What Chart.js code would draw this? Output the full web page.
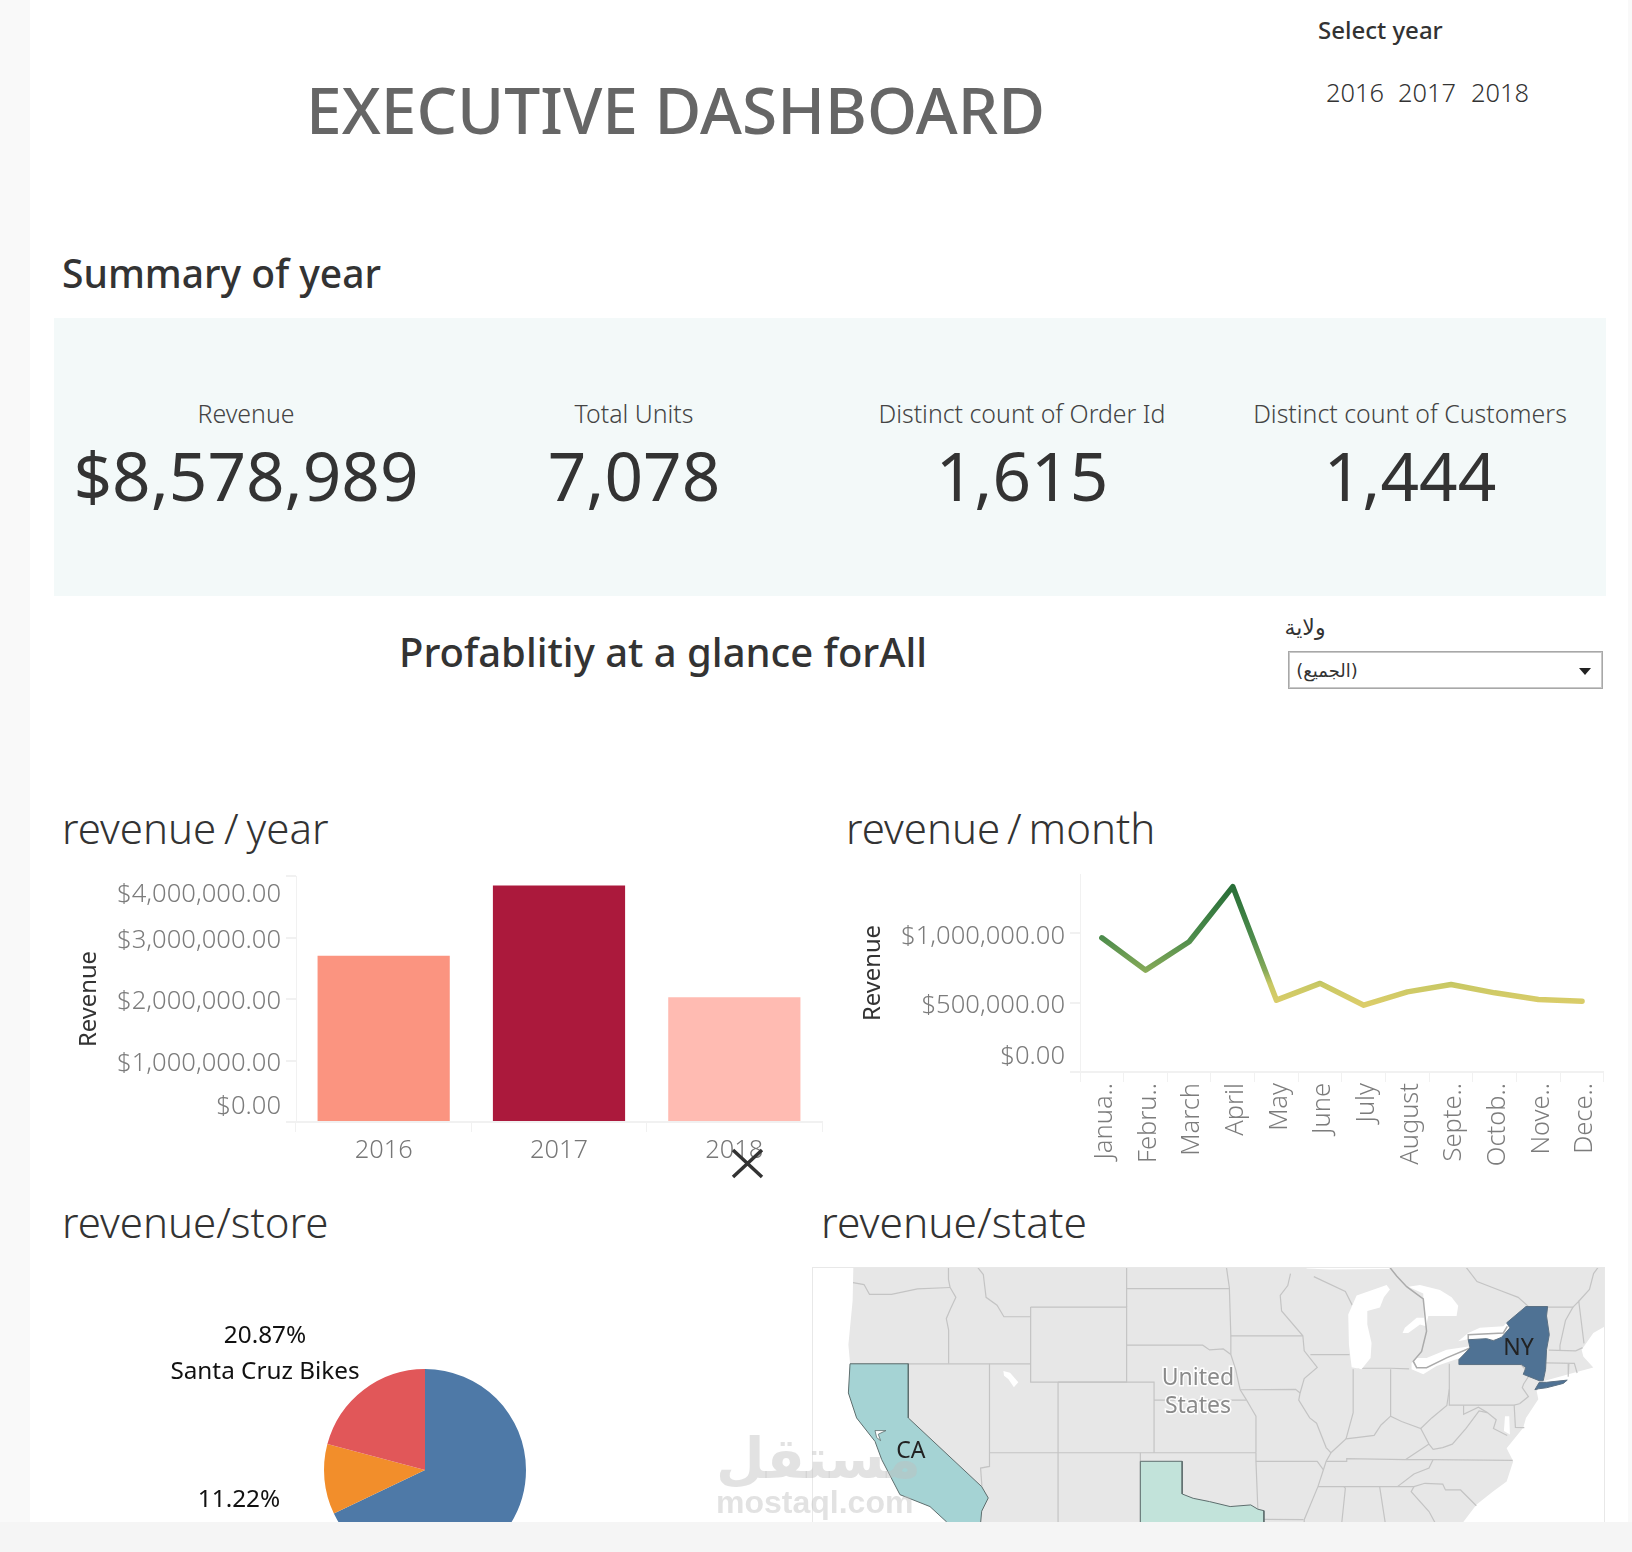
<!DOCTYPE html>
<html>
<head>
<meta charset="utf-8">
<title>Executive Dashboard</title>
<script src="https://cdn.jsdelivr.net/npm/chart.js@4/dist/chart.umd.js"></script>
<style>
  html, body { margin: 0; padding: 0; background: #fff; }
  #page { position: relative; width: 1632px; height: 1552px; overflow: hidden; background: #fff; font-family: "Noto Sans", sans-serif; color: #333; }
  .t { position: absolute; white-space: nowrap; line-height: 1; }
  .c { transform: translate(-50%, -50%); }
  .l { transform: translateY(-50%); }
  .head { font-weight: 300; font-size: 42px; color: #333; }
  .box { position: absolute; overflow: hidden; }
  canvas { display: block; }
  #bandLeft { position: absolute; left: 0; top: 0; width: 30px; height: 1552px; background: #f9f9f9; }
  #bandRight { position: absolute; left: 1628px; top: 0; width: 4px; height: 1552px; background: #f9f9f9; }
  #bandBottom { position: absolute; left: 0; top: 1522px; width: 1632px; height: 30px; background: #f5f5f5; }
  #kpiBand { position: absolute; left: 54px; top: 318px; width: 1552px; height: 278px; background: #f3f9f9; }
  #stateSelect { position: absolute; left: 1288px; top: 651px; width: 313px; height: 36px; border: 1px solid #a8a8a8; box-shadow: inset 0 0 0 1px #c8c8c8; }
  #stateSelect i { position: absolute; left: 290px; top: 16px; width: 0; height: 0; border-left: 6px solid transparent; border-right: 6px solid transparent; border-top: 7px solid #222; }
  #mapPane { outline: 1px solid #e8e8e8; }
  #cursorMark { position: absolute; left: 731px; top: 1148px; }
  .mark { position: absolute; font-family: "DejaVu Sans", sans-serif; font-weight: bold; color: rgba(190, 190, 190, 0.45); white-space: nowrap; line-height: 1; }
</style>
</head>
<body>
<div id="page">
  <div id="bandLeft"></div>
  <div id="bandRight"></div>

  <div class="t l" style="left:306px;top:110px;font-size:64px;font-weight:500;color:#666">EXECUTIVE DASHBOARD</div>
  <div class="t l" style="left:1318px;top:30px;font-size:24px;font-weight:500">Select year</div>
  <div id="yearPicker"></div>

  <div class="t l" style="left:62px;top:272px;font-size:39px;font-weight:500">Summary of year</div>
  <div id="kpiBand"></div>
  <div id="kpis"></div>

  <div class="t l" style="left:399px;top:652px;font-size:40px;font-weight:500">Profablitiy at a glance forAll</div>
  <div class="t c" dir="rtl" style="left:1305px;top:628px;font-size:22px;font-family:'DejaVu Sans'">ولاية</div>
  <div id="stateSelect"><i></i></div>
  <div class="t c" dir="rtl" style="left:1327px;top:671px;font-size:18px;font-family:'DejaVu Sans'">(الجميع)</div>

  <div class="t l head" style="left:62px;top:828px;word-spacing:-3px">revenue / year</div>
  <div class="t l head" style="left:846px;top:828px;word-spacing:-4px">revenue / month</div>
  <div class="t l head" style="left:62px;top:1222px">revenue/store</div>
  <div class="t l head" style="left:821px;top:1222px;font-size:42.5px">revenue/state</div>

  <div class="box" style="left:60px;top:866px;width:770px;height:310px"><canvas id="barChart" width="770" height="310"></canvas></div>
  <div class="box" style="left:846px;top:864px;width:768px;height:316px"><canvas id="lineChart" width="768" height="316"></canvas></div>
  <div class="box" style="left:150px;top:1270px;width:550px;height:252px"><canvas id="pieChart" width="550" height="400"></canvas></div>
  <div class="box" id="mapPane" style="left:813px;top:1268px;width:791px;height:254px"><canvas id="mapChart" width="791" height="254"></canvas></div>

  <svg id="cursorMark" width="33" height="31"><path d="M2 2 L31 29 M31 2 L2 29" stroke="#333" stroke-width="3.5" fill="none"/></svg>

  <div class="mark" dir="rtl" style="left:716px;top:1431px;font-size:56px">مستقل</div>
  <div class="mark" style="left:716px;top:1486px;font-size:32px;font-family:'Liberation Sans'">mostaql.com</div>

  <div id="bandBottom"></div>
</div>

<script>
// Year filter and KPI row
const years = ['2016', '2017', '2018'];
const kpiLabels = ['Revenue', 'Total Units', 'Distinct count of Order Id', 'Distinct count of Customers'];
const kpiValues = ['$8,578,989', '7,078', '1,615', '1,444'];

// Revenue by year
const yearRevenue = [2703989, 3845000, 2030000];
const yearColors = ['#fb9480', '#ab193c', '#ffbbb2'];
const yearTicks = [0, 1000000, 2000000, 3000000, 4000000];

// Revenue by month
const monthLabels = ['Janua..', 'Febru..', 'March', 'April', 'May', 'June', 'July', 'August', 'Septe..', 'Octob..', 'Nove..', 'Dece..'];
const monthRevenue = [968000, 735000, 939000, 1337000, 518000, 639000, 482000, 578000, 631000, 571000, 523000, 511000];
const monthTicks = [0, 500000, 1000000];

// Revenue share by store, percent
const storeNames = ['Baldwin Bikes', 'Rowlett Bikes', 'Santa Cruz Bikes'];
const storeShare = [67.91, 11.22, 20.87];
const storeColors = ['#4e79a7', '#f28e2b', '#e15759'];

// Map outlines as [lon, lat]
const landOutline = [[-124,49.5],[-123.98,46.98],[-124.03,45.33],[-124.34,43.03],[-124.22,42.05],[-124.34,40.4],[-123.74,39],[-122.4,37.66],[-121.91,36.6],[-120.58,34.52],[-118.39,33.8],[-117.17,32.86],[-117.17,31],[-85,30],[-80,32],[-79.5,32.86],[-78.53,33.92],[-77.31,34.72],[-76.34,35.3],[-75.86,36.5],[-76.34,37.26],[-75.13,38.44],[-74.93,39],[-74.03,40.05],[-74.15,40.5],[-73.67,41.05],[-71.97,41.4],[-70.02,41.8],[-70.75,42.4],[-70.87,42.76],[-70.02,43.65],[-69.29,43.95],[-66,45],[-64,49.5],[-124,49.5]];
const lakeSuperior = [[-90.93,46.95],[-89.2,46.9],[-84.85,46.93],[-84.85,48],[-90.93,48],[-90.93,46.95]];
const lakeMichigan = [[-85.09,46.13],[-87.28,45.6],[-87.89,44.62],[-87.84,43.03],[-87.64,41.82],[-86.92,41.7],[-86.26,42.32],[-86.19,43.12],[-86.5,44.09],[-86.5,44.8],[-85.58,44.98],[-85.29,45.51],[-84.85,45.9],[-85.09,46.13]];
const lakeHuron = [[-83.51,46.04],[-82.42,45.69],[-82.37,44.45],[-82.9,44.45],[-83.76,43.92],[-83.93,43.65],[-83.51,43.65],[-82.66,44.09],[-82.22,44],[-82.05,44.54],[-79.99,44.54],[-79.87,45.07],[-80.35,45.51],[-81.2,45.87],[-82.66,46.13],[-83.51,46.04]];
const lakeErie = [[-83.27,41.7],[-82.42,41.43],[-81.45,41.88],[-79.75,42.32],[-78.53,42.85],[-79.01,42.94],[-80.72,42.76],[-82.18,42.32],[-82.9,42.32],[-83.27,42.05],[-83.27,41.7]];
const lakeOntario = [[-79.87,43.21],[-79.14,43.65],[-78.29,43.92],[-76.58,44],[-76.34,44.18],[-75.98,43.92],[-76.34,43.56],[-76.83,43.35],[-77.8,43.29],[-79.01,43.35],[-79.87,43.21]];
const saltLake = [[-113.04,41.61],[-112.55,41.52],[-111.95,40.99],[-112.27,40.72],[-112.68,41.17],[-112.99,41.35],[-113.04,41.61]];
const chesapeake = [[-76.46,39.1],[-76.15,39.1],[-76.1,38.05],[-76.54,38.25],[-76.46,39.1]];
const sanFranciscoBay = [[-122.4,38.28],[-121.6,38.28],[-122.16,38.07],[-121.99,37.7],[-122.28,37.88],[-122.4,38.28]];
const californiaShape = [[-124.22,42],[-119.97,42],[-119.97,39],[-114.62,35],[-114.14,34.32],[-114.62,33.52],[-114.72,32.6],[-117.17,32.6],[-117.17,32.86],[-118.39,33.8],[-120.58,34.52],[-121.91,36.6],[-122.4,37.66],[-123.74,39],[-124.34,40.4],[-124.22,42]];
const texasShape = [[-103.05,36.5],[-100,36.5],[-100,34.56],[-99.2,34.3],[-98,34.1],[-96.5,33.8],[-95,33.9],[-94.48,33.64],[-94.04,33.55],[-94.04,31.99],[-94.04,30],[-103.05,30],[-103.05,36.5]];
const newYorkShape = [[-79.82,41.96],[-79.82,42.23],[-79.01,42.85],[-79.14,43.29],[-77.8,43.35],[-77.31,43.24],[-76.71,43.42],[-76.1,43.92],[-76.34,44.18],[-74.93,45.03],[-73.35,45.03],[-73.43,44.54],[-73.23,43.56],[-73.43,42.76],[-73.5,41.7],[-73.67,41.08],[-73.96,41.08],[-75.13,41.43],[-74.93,41.79],[-75.25,41.96],[-79.82,41.96]];
const longIslandShape = [[-74.28,40.58],[-73.96,40.99],[-73.43,40.99],[-71.92,41.11],[-72.21,40.93],[-73.43,40.69],[-74.03,40.63],[-74.28,40.58]];
const canadaLakeLine = [[-84.85,47],[-84.36,46.58],[-83.63,46.04],[-82.42,45.42],[-82.18,43.74],[-82.54,42.67],[-83.15,42.14],[-82.9,41.79],[-82.18,41.79],[-80.72,42.32],[-79.01,42.85]];
const ontarioLakeLine = [[-79.14,43.29],[-79.14,43.56],[-76.58,43.65],[-76.29,44]];
const stateBorders = [
  [[-124,46.25],[-123.2,46.15],[-122.8,45.65],[-121.2,45.65],[-119.3,45.93],[-116.92,46]],
  [[-116.92,46],[-116.5,45.5],[-116.9,44.9],[-117.2,44.4],[-117.03,43.8],[-117.03,42]],
  [[-117.04,49],[-117.04,46.4],[-116.92,46]],
  [[-124.2,42],[-111.05,42]],
  [[-116.05,49],[-116.05,48],[-114.5,46.65],[-114.3,45.5],[-113.5,45.1],[-113,44.5],[-111.05,44.5]],
  [[-111.05,45],[-104.05,45],[-104.05,41],[-111.05,41],[-111.05,45]],
  [[-104.05,49],[-104.05,45]],
  [[-114.05,42],[-114.05,36.2],[-114.7,36.1],[-114.6,35]],
  [[-109.05,41],[-109.05,31.33]],
  [[-114.05,37],[-94.62,37]],
  [[-109.05,41],[-102.05,41],[-102.05,37]],
  [[-104.05,43],[-98.5,43],[-98,42.75],[-97,42.8],[-96.45,42.5]],
  [[-102.05,40],[-95.3,40]],
  [[-104.05,45.94],[-96.56,45.94]],
  [[-94.62,37],[-94.62,39.1],[-95,39.6],[-95.3,40]],
  [[-103.05,37],[-103.05,32]],
  [[-94.62,37],[-94.62,36.5],[-94.48,33.64]],
  [[-94.62,36.5],[-90.15,36.5],[-89.7,36]],
  [[-94.04,33.02],[-91.15,33]],
  [[-95.77,40.58],[-91.73,40.6],[-91.4,40.4]],
  [[-97.2,49],[-96.56,46],[-96.45,43.5],[-91.2,43.5]],
  [[-96.45,43.5],[-96.45,42.5],[-96.1,41.7],[-95.9,41],[-95.77,40.58],[-95.3,40]],
  [[-92.1,46.7],[-92.3,46.1],[-92.85,45.6],[-92.75,44.8],[-91.2,43.5],[-91.1,42.7],[-90.15,41.8],[-91.1,41.2],[-91.4,40.4],[-91.5,40],[-90.7,39],[-90.2,38.7],[-89.5,37.3],[-89.15,37],[-89.5,36.5],[-89.7,36],[-90.1,35],[-91.1,33],[-91.1,32.3]],
  [[-90.65,42.5],[-87.8,42.5]],
  [[-90.4,46.55],[-88.1,45.8],[-87.6,45.1]],
  [[-87.53,41.7],[-87.53,39.3],[-88.05,37.8]],
  [[-84.8,41.7],[-84.8,39.1]],
  [[-87.2,41.76],[-84.8,41.76],[-83.45,41.73]],
  [[-89.15,37],[-88.05,37.8],[-87,37.9],[-86,38],[-85.5,38.6],[-84.8,39.1],[-84,38.8],[-82.6,38.4],[-81.8,39],[-80.7,39.7],[-80.52,40.6]],
  [[-80.52,42],[-80.52,39.72],[-75.8,39.72],[-75.4,39.8]],
  [[-75.4,39.8],[-74.75,40.2],[-75.2,40.7],[-75.1,40.9],[-74.7,41.36],[-75.1,41.8],[-75.35,42]],
  [[-82.6,38.4],[-82,37.5],[-81.7,37.2],[-81,37.3],[-80.3,37.5],[-79.3,38.4],[-78.35,39.4],[-77.75,39.3]],
  [[-79.48,39.72],[-79.48,39.2],[-78.4,39.6],[-77.75,39.3],[-77.1,38.9],[-77.3,38.4],[-76.3,38]],
  [[-75.79,39.72],[-75.7,38.46],[-75.05,38.45]],
  [[-89.5,36.5],[-88,36.5],[-88,36.65],[-83.7,36.6],[-81.7,36.6],[-75.9,36.55]],
  [[-83.7,36.6],[-82,37.5]],
  [[-81.7,36.6],[-82,36.1],[-83.1,35.75],[-84.3,35]],
  [[-90.1,35],[-83.1,35],[-82.3,35.2],[-81,35.15],[-80.8,34.8],[-79.7,34.8],[-78.55,33.85]],
  [[-88.2,35],[-88.1,34.9],[-88.4,32.5],[-88.45,31]],
  [[-85.6,35],[-85.2,32.85],[-85,32]],
  [[-83.1,35],[-83.3,34.7],[-82,33.5],[-81.1,32.1]],
  [[-73.35,45],[-71.5,45],[-72.05,44.3],[-72.45,43],[-72.45,42.73]],
  [[-73.27,42.74],[-71.3,42.7],[-70.8,42.87]],
  [[-73.5,42.05],[-71.4,42.02],[-71.2,41.5]],
  [[-71.8,42.02],[-71.85,41.3]],
  [[-71.5,45],[-71.08,45.3],[-70.7,43.1]],
  [[-71.08,45.3],[-70.3,45.9],[-70,46.7],[-69.2,47.45],[-68.3,47.35],[-67.8,47.07],[-67.8,45.7],[-67,44.9]],
  [[-79.5,47.2],[-78.5,46.3],[-77,45.9],[-75.5,45.5],[-74.7,45]]
];
const mapLabels = [
  { text: 'United', lon: -98.85, lat: 41.22, color: '#8a8a8a' },
  { text: 'States', lon: -98.85, lat: 39.65, color: '#8a8a8a' },
  { text: 'CA', lon: -119.78, lat: 37.1, color: '#222' },
  { text: 'NY', lon: -75.47, lat: 42.85, color: '#222' }
];

// Mercator ordinate in degrees, so the map sits on plain linear scales
function merc(lat) {
  return Math.log(Math.tan(Math.PI / 4 + lat * Math.PI / 360)) * 180 / Math.PI;
}

function money(v) {
  return '$' + v.toLocaleString('en-US', { minimumFractionDigits: 2, maximumFractionDigits: 2 });
}

// small DOM bits
const page = document.getElementById('page');
function addText(text, left, top, style) {
  const el = document.createElement('div');
  el.className = 't c';
  el.textContent = text;
  el.style.cssText = `left:${left}px;top:${top}px;${style}`;
  page.insertBefore(el, document.getElementById('bandBottom'));
}
[1355, 1427, 1500].forEach((x, i) => addText(years[i], x, 93, 'font-size:25.4px;font-weight:300;color:#333'));
[246, 634, 1022, 1410].forEach((x, i) => {
  addText(kpiLabels[i], x, 413, 'font-size:24.9px;font-weight:300;color:#444');
  addText(kpiValues[i], x, 476, 'font-size:67.5px;font-weight:400;color:#333');
});

Chart.defaults.animation = false;
Chart.defaults.responsive = false;
Chart.defaults.font.family = '"Noto Sans", sans-serif';
Chart.defaults.plugins.legend.display = false;
Chart.defaults.plugins.tooltip.enabled = false;

const axisColor = '#f1f1f1';
const tickGrey = '#7c7c7c';

// Value labels stay inside the axis: the end ones get pushed inward
const yTickLabels = {
  id: 'yTickLabels',
  afterDraw(chart) {
    const s = chart.scales.y;
    const ctx = chart.ctx;
    ctx.save();
    ctx.font = '300 25.6px "Noto Sans"';
    ctx.fillStyle = tickGrey;
    ctx.textAlign = 'right';
    ctx.textBaseline = 'middle';
    s.ticks.forEach((t, i) => {
      const py = s.getPixelForTick(i) + 3;
      const y = Math.max(s.top + 19, Math.min(s.bottom - 15, py));
      ctx.fillText(money(t.value), s.right - 15, y);
    });
    ctx.restore();
  }
};

function axisY(width, max, tickValues, titleGap) {
  return {
    min: 0,
    max: max,
    afterFit: s => { s.width = width; },
    afterBuildTicks: s => { s.ticks = tickValues.map(value => ({ value })); },
    border: { color: axisColor, width: 1 },
    grid: { drawOnChartArea: false, tickLength: 10, color: axisColor, lineWidth: 2 },
    ticks: { display: false },
    title: { display: true, text: 'Revenue', color: '#333', font: { size: 23.8 }, padding: { top: titleGap, bottom: 0 } }
  };
}

new Chart(document.getElementById('barChart'), {
  type: 'bar',
  data: {
    labels: years,
    datasets: [{ data: yearRevenue, backgroundColor: yearColors, barPercentage: 0.754, categoryPercentage: 1 }]
  },
  options: {
    layout: { autoPadding: false, padding: { top: 10, right: 8, left: 0, bottom: 0 } },
    scales: {
      y: axisY(236, 4000000, yearTicks, 15),
      x: {
        afterFit: s => { s.height = 54; },
        border: { color: axisColor, width: 2 },
        grid: { drawOnChartArea: false, tickLength: 10, color: axisColor, lineWidth: 1 },
        ticks: { color: '#777', font: { size: 25.4, weight: '300' }, padding: 4, maxRotation: 0 }
      }
    }
  },
  plugins: [yTickLabels]
});

new Chart(document.getElementById('lineChart'), {
  type: 'line',
  data: {
    labels: monthLabels,
    datasets: [{
      data: monthRevenue,
      // colour follows the value, dark green at the peak down to yellow
      borderColor(c) {
        const { chart } = c;
        if (!chart.chartArea) return '#88aa55';
        const s = chart.scales.y;
        const g = chart.ctx.createLinearGradient(0, s.getPixelForValue(1337000), 0, s.getPixelForValue(482000));
        g.addColorStop(0, '#286e37');
        g.addColorStop(0.43, '#4d8c4c');
        g.addColorStop(0.71, '#86aa58');
        g.addColorStop(0.82, '#c8c864');
        g.addColorStop(1, '#dccd6a');
        return g;
      },
      borderWidth: 5.5,
      borderCapStyle: 'round',
      borderJoinStyle: 'round',
      tension: 0,
      pointRadius: 0
    }]
  },
  options: {
    layout: { autoPadding: false, padding: { top: 10, right: 8, left: 0, bottom: 0 } },
    scales: {
      y: axisY(234, 1428000, monthTicks, 13),
      x: {
        offset: true,
        afterFit: s => { s.height = 108; },
        border: { color: axisColor, width: 2 },
        grid: { offset: true, drawOnChartArea: false, tickLength: 10, color: axisColor, lineWidth: 1 },
        ticks: { color: tickGrey, font: { size: 25.5, weight: '300' }, padding: 1, labelOffset: 3, minRotation: 90, maxRotation: 90, autoSkip: false }
      }
    }
  },
  plugins: [yTickLabels]
});

// percent labels beside the slices
const pieLabels = {
  id: 'pieLabels',
  afterDraw(chart) {
    const ctx = chart.ctx;
    ctx.save();
    ctx.font = '400 24.3px "Noto Sans"';
    ctx.fillStyle = '#111';
    ctx.textAlign = 'center';
    ctx.textBaseline = 'middle';
    ctx.fillText(storeShare[2].toFixed(2) + '%', 115, 66);
    ctx.fillText(storeNames[2], 115, 102);
    ctx.fillText(storeShare[1].toFixed(2) + '%', 89, 230);
    ctx.restore();
  }
};

new Chart(document.getElementById('pieChart'), {
  type: 'pie',
  data: {
    labels: storeNames,
    datasets: [{ data: storeShare, backgroundColor: storeColors, borderWidth: 0, radius: 101 }]
  },
  options: { layout: { padding: 0 } },
  plugins: [pieLabels]
});

function toXY(list) {
  return list.map(p => ({ x: p[0], y: merc(p[1]) }));
}
function shape(list, fillColor, edge, edgeWidth) {
  return {
    data: toXY(list),
    showLine: true,
    pointRadius: 0,
    tension: 0,
    fill: fillColor ? 'shape' : false,
    backgroundColor: fillColor || 'transparent',
    borderColor: edge || 'transparent',
    borderWidth: edgeWidth || 0
  };
}

const mapText = {
  id: 'mapText',
  afterDraw(chart) {
    const ctx = chart.ctx;
    ctx.save();
    ctx.font = '400 23px "Noto Sans"';
    ctx.textAlign = 'center';
    ctx.textBaseline = 'middle';
    mapLabels.forEach(m => {
      const x = chart.scales.x.getPixelForValue(m.lon);
      const y = chart.scales.y.getPixelForValue(merc(m.lat));
      if (m.color !== '#222') {
        ctx.strokeStyle = 'rgba(255,255,255,0.9)';
        ctx.lineWidth = 3;
        ctx.strokeText(m.text, x, y);
      }
      ctx.fillStyle = m.color;
      ctx.fillText(m.text, x, y);
    });
    ctx.restore();
  }
};

const landGrey = '#e7e7e7';
const borderGrey = '#c4c4c4';
const lakeEdge = '#ababab';
// Chart.js paints the first dataset last, so list the layers back to front and reverse
const mapLayers = [
  shape(landOutline, landGrey),
  ...stateBorders.map(b => shape(b, null, borderGrey, 1.2)),
  ...[lakeSuperior, lakeMichigan, lakeHuron, lakeErie, lakeOntario, saltLake, chesapeake].map(l => shape(l, '#fff')),
  shape(canadaLakeLine, null, lakeEdge, 1.5),
  shape(ontarioLakeLine, null, lakeEdge, 1.5),
  shape(californiaShape, '#a5d3d4', '#5e6e6e', 1),
  shape(sanFranciscoBay, '#fff', '#5e6e6e', 0.8),
  shape(texasShape, '#c2e3da', '#5e6e6e', 1),
  shape(newYorkShape, '#4f7294', '#5b7184', 1),
  shape(longIslandShape, '#4f7294', '#5b7184', 1)
];
new Chart(document.getElementById('mapChart'), {
  type: 'scatter',
  data: { datasets: mapLayers.reverse() },
  options: {
    layout: { autoPadding: false, padding: 0 },
    scales: {
      x: { display: false, min: -126.92, max: -69.24 },
      y: { display: false, min: merc(32.86), max: merc(46.98) }
    }
  },
  plugins: [mapText]
});
</script>
</body>
</html>
